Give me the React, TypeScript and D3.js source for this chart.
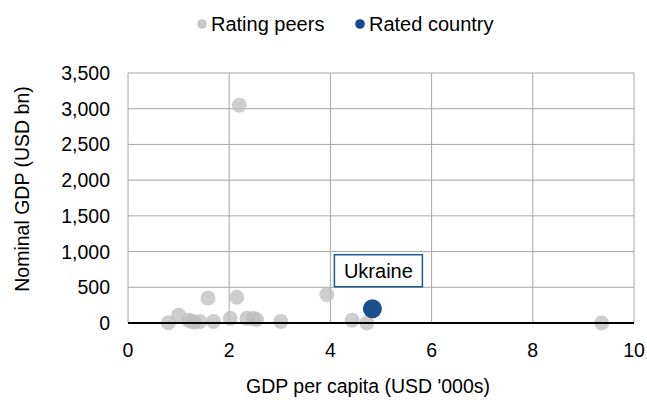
import { scaleLinear } from 'd3';

const peerX = [2.2, 1.58, 2.15, 3.93, 1.0, 0.8, 1.2, 1.26, 1.32, 1.42, 1.69, 2.02, 2.35, 2.48, 2.54, 3.02, 4.43, 4.72, 9.36];
const peerY = [3050, 350, 360, 400, 110, 5, 40, 20, 10, 20, 20, 65, 65, 65, 50, 20, 40, 0, 0];
const ratedX = [4.83];
const ratedY = [200];
const ratedLabel = 'Ukraine';
const xTicks = [0, 2, 4, 6, 8, 10];
const yTicks = [0, 500, 1000, 1500, 2000, 2500, 3000, 3500];

const width = 647;
const height = 405;
const margin = { top: 73, right: 13, bottom: 82, left: 128 };
const font = 'Liberation Sans, Arial, sans-serif';

export default function App() {
  const x = scaleLinear().domain([0, 10]).range([margin.left, width - margin.right]);
  const y = scaleLinear().domain([0, 3500]).range([height - margin.bottom, margin.top]);
  const fmt = (v: number) => v.toLocaleString('en-US');

  const ux = x(ratedX[0]);
  const uy = y(ratedY[0]);

  return (
    <svg width={width} height={height} style={{ position: 'absolute', left: 0, top: 0 }} fontFamily={font}>
      <rect width={width} height={height} fill="#ffffff" />

      {yTicks.map(t => (
        <g key={t}>
          {t > 0 && <line x1={x(0)} x2={x(10)} y1={y(t)} y2={y(t)} stroke="#a6a6a6" strokeWidth="1" />}
          <text x={x(0) - 18} y={y(t) + 7} textAnchor="end" fontSize="19.5" fill="#000">{fmt(t)}</text>
        </g>
      ))}
      {xTicks.map(t => (
        <g key={t}>
          <line x1={x(t)} x2={x(t)} y1={y(0)} y2={y(3500)} stroke="#a6a6a6" strokeWidth="1" />
          <text x={x(t)} y={y(0) + 34} textAnchor="middle" fontSize="19.5" fill="#000">{t}</text>
        </g>
      ))}

      {peerX.map((px, i) => (
        <circle key={i} cx={x(px)} cy={y(peerY[i])} r="7.5" fill="#bdbdbd" fillOpacity="0.75" />
      ))}

      <line x1={x(0)} x2={x(10)} y1={y(0)} y2={y(0)} stroke="#000" strokeWidth="2" />

      <circle cx={ux} cy={uy} r="9.5" fill="#1b4f8a" />
      <rect x={ux - 38} y={uy - 54} width="88" height="32" fill="#fff" stroke="#1f5591" strokeWidth="1.5" />
      <text x={ux + 6} y={uy - 31} textAnchor="middle" fontSize="20" fill="#000">{ratedLabel}</text>

      <circle cx={202} cy={24} r="4.8" fill="#c8c8c8" />
      <text x={211} y={31} fontSize="20" fill="#000">Rating peers</text>
      <circle cx={360} cy={24} r="4.8" fill="#0e4c92" />
      <text x={369} y={31} fontSize="20" fill="#000">Rated country</text>

      <text x={368} y={393} textAnchor="middle" fontSize="19.5" fill="#000">GDP per capita (USD '000s)</text>
      <text transform={`translate(29,189) rotate(-90)`} textAnchor="middle" fontSize="19.5" fill="#000">Nominal GDP (USD bn)</text>
    </svg>
  );
}
